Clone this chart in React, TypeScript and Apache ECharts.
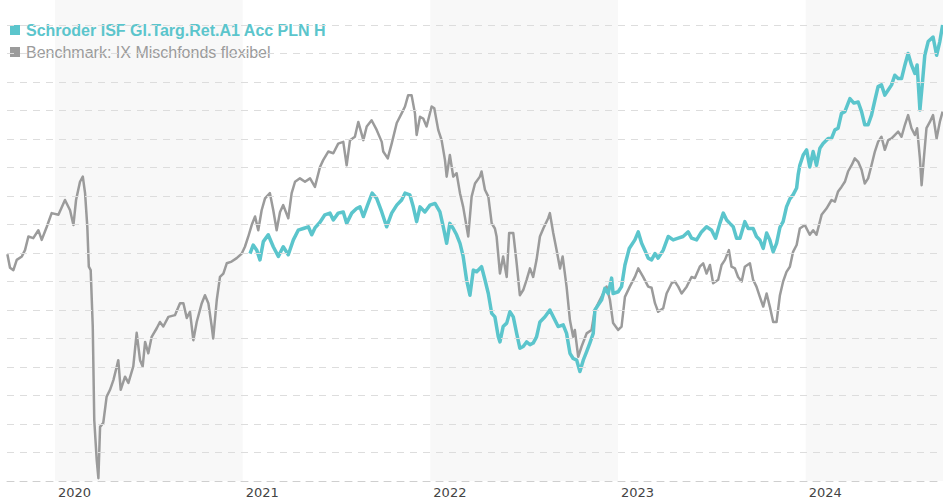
import React, { useEffect, useRef } from "react";
import * as echarts from "echarts";

const fundName = "Schroder ISF Gl.Targ.Ret.A1 Acc PLN H";
const benchName = "Benchmark: IX Mischfonds flexibel";

const yearLabels = [2020, 2021, 2022, 2023, 2024];
const shadedYears: [number, number][] = [
  [2020, 2021],
  [2022, 2023],
  [2024, 2025],
];
const gridValues = [65, 70, 75, 80, 85, 90, 95, 100, 105, 110, 115, 120, 125, 130, 135, 140];
const xMin = 2019.744;
const xMax = 2024.732;
const yMin = 60;
const yMax = 144.39;

// [decimal year, indexed value]
const benchmark: [number, number][] = [
  [2019.746, 99.8], [2019.76, 97.4], [2019.778, 97.0], [2019.796, 98.8], [2019.823, 99.4],
  [2019.84, 100.5], [2019.858, 102.9], [2019.884, 102.6], [2019.911, 104.0], [2019.929, 102.3],
  [2019.956, 104.6], [2019.982, 107.0], [2020.018, 106.7], [2020.053, 109.3], [2020.08, 107.5],
  [2020.098, 104.9], [2020.112, 109.3], [2020.133, 112.5], [2020.148, 113.4], [2020.16, 110.5],
  [2020.172, 104.6], [2020.18, 97.6], [2020.19, 97.0], [2020.201, 87.1], [2020.209, 70.7],
  [2020.222, 63.7], [2020.231, 60.5], [2020.24, 69.5], [2020.257, 70.2], [2020.275, 74.8],
  [2020.293, 76.0], [2020.311, 77.7], [2020.329, 80.1], [2020.337, 81.2], [2020.35, 76.0],
  [2020.373, 78.3], [2020.391, 77.2], [2020.417, 80.1], [2020.435, 86.0], [2020.453, 81.2],
  [2020.467, 80.1], [2020.48, 84.4], [2020.497, 82.4], [2020.515, 85.3], [2020.542, 86.8],
  [2020.559, 87.9], [2020.577, 87.1], [2020.604, 88.8], [2020.639, 89.1], [2020.666, 91.2],
  [2020.684, 91.2], [2020.702, 88.6], [2020.719, 89.7], [2020.737, 84.7], [2020.755, 87.9],
  [2020.782, 91.2], [2020.799, 92.6], [2020.817, 91.2], [2020.835, 87.1], [2020.843, 85.0],
  [2020.862, 91.8], [2020.879, 95.8], [2020.897, 96.4], [2020.915, 98.2], [2020.941, 98.5],
  [2020.968, 99.1], [2020.995, 99.9], [2021.012, 101.1], [2021.03, 102.9], [2021.048, 104.9],
  [2021.066, 106.4], [2021.083, 104.0], [2021.101, 107.5], [2021.119, 109.6], [2021.145, 110.5],
  [2021.163, 107.5], [2021.181, 104.0], [2021.199, 107.2], [2021.216, 108.4], [2021.243, 106.1],
  [2021.261, 110.5], [2021.279, 112.5], [2021.305, 113.1], [2021.332, 112.5], [2021.359, 113.1],
  [2021.385, 111.6], [2021.412, 115.1], [2021.429, 116.3], [2021.456, 117.8], [2021.483, 117.5],
  [2021.509, 119.2], [2021.536, 119.5], [2021.554, 115.4], [2021.572, 119.8], [2021.598, 120.4],
  [2021.616, 123.0], [2021.643, 119.8], [2021.661, 122.2], [2021.687, 123.3], [2021.714, 121.6],
  [2021.741, 119.5], [2021.749, 117.8], [2021.773, 116.6], [2021.794, 119.2], [2021.821, 122.8],
  [2021.847, 124.5], [2021.865, 125.7], [2021.882, 127.7], [2021.9, 127.7], [2021.918, 124.5],
  [2021.927, 120.7], [2021.945, 123.9], [2021.962, 123.6], [2021.98, 122.2], [2022.007, 125.7],
  [2022.021, 125.4], [2022.042, 121.6], [2022.06, 119.8], [2022.078, 116.3], [2022.087, 113.4],
  [2022.104, 117.2], [2022.122, 113.4], [2022.14, 114.0], [2022.158, 110.5], [2022.175, 108.1],
  [2022.202, 102.9], [2022.22, 109.9], [2022.238, 112.2], [2022.264, 113.4], [2022.273, 114.3],
  [2022.291, 111.1], [2022.309, 109.9], [2022.327, 105.2], [2022.344, 104.3], [2022.353, 102.9],
  [2022.371, 96.4], [2022.388, 99.4], [2022.407, 95.8], [2022.42, 103.5], [2022.442, 103.5],
  [2022.46, 98.2], [2022.477, 92.6], [2022.495, 93.5], [2022.513, 95.3], [2022.531, 97.3],
  [2022.548, 95.8], [2022.566, 98.8], [2022.584, 102.9], [2022.602, 104.3], [2022.628, 106.1],
  [2022.637, 107.0], [2022.655, 103.5], [2022.673, 100.5], [2022.691, 97.3], [2022.705, 99.4],
  [2022.726, 94.1], [2022.744, 88.2], [2022.761, 85.3], [2022.77, 86.5], [2022.788, 81.8],
  [2022.806, 83.6], [2022.833, 85.9], [2022.859, 86.5], [2022.877, 90.0], [2022.904, 91.8],
  [2022.921, 92.9], [2022.939, 94.1], [2022.957, 91.8], [2022.974, 87.7], [2023.001, 86.5],
  [2023.019, 87.1], [2023.037, 92.3], [2023.063, 94.1], [2023.09, 95.8], [2023.108, 97.3],
  [2023.134, 95.8], [2023.161, 94.1], [2023.179, 93.9], [2023.197, 91.2], [2023.214, 89.7],
  [2023.241, 90.3], [2023.259, 92.9], [2023.286, 94.7], [2023.303, 95.0], [2023.321, 94.1],
  [2023.339, 92.9], [2023.366, 94.1], [2023.392, 95.8], [2023.41, 95.6], [2023.436, 97.6],
  [2023.454, 98.2], [2023.472, 96.4], [2023.49, 97.9], [2023.507, 94.7], [2023.534, 95.3],
  [2023.552, 97.9], [2023.57, 98.8], [2023.591, 100.5], [2023.605, 97.6], [2023.623, 97.3],
  [2023.64, 95.8], [2023.659, 95.0], [2023.676, 97.6], [2023.703, 98.2], [2023.72, 95.3],
  [2023.738, 94.1], [2023.756, 92.3], [2023.774, 90.6], [2023.792, 92.9], [2023.809, 90.6],
  [2023.827, 87.9], [2023.845, 87.9], [2023.863, 92.6], [2023.88, 95.0], [2023.898, 96.7],
  [2023.916, 97.6], [2023.933, 100.2], [2023.952, 101.4], [2023.969, 104.3], [2023.996, 104.9],
  [2024.022, 103.2], [2024.04, 104.0], [2024.058, 103.2], [2024.085, 106.7], [2024.111, 107.8],
  [2024.138, 109.3], [2024.156, 109.0], [2024.173, 110.8], [2024.191, 111.6], [2024.209, 112.5],
  [2024.226, 114.3], [2024.245, 115.4], [2024.262, 116.6], [2024.28, 116.0], [2024.298, 114.6],
  [2024.315, 112.2], [2024.333, 113.1], [2024.351, 115.4], [2024.369, 117.8], [2024.386, 119.5],
  [2024.404, 120.4], [2024.422, 118.1], [2024.44, 119.8], [2024.458, 120.1], [2024.475, 120.7],
  [2024.493, 121.3], [2024.511, 120.4], [2024.529, 122.5], [2024.546, 124.2], [2024.564, 121.9],
  [2024.582, 120.7], [2024.594, 121.9], [2024.609, 116.6], [2024.618, 111.9], [2024.63, 116.6],
  [2024.644, 121.9], [2024.662, 123.0], [2024.679, 124.2], [2024.698, 120.1], [2024.715, 123.0],
  [2024.73, 124.8],
];

const fund: [number, number][] = [
  [2021.039, 99.9], [2021.056, 101.4], [2021.075, 100.5], [2021.092, 98.8], [2021.11, 102.0],
  [2021.136, 103.2], [2021.163, 101.1], [2021.19, 99.4], [2021.216, 101.1], [2021.243, 99.7],
  [2021.27, 102.3], [2021.296, 104.0], [2021.323, 104.3], [2021.35, 104.6], [2021.368, 103.2],
  [2021.385, 104.4], [2021.412, 105.4], [2021.438, 106.7], [2021.465, 107.0], [2021.483, 105.8],
  [2021.509, 107.0], [2021.536, 107.2], [2021.554, 105.2], [2021.581, 107.0], [2021.607, 107.8],
  [2021.625, 108.1], [2021.643, 106.4], [2021.669, 108.7], [2021.69, 110.5], [2021.714, 109.6],
  [2021.741, 107.2], [2021.767, 104.6], [2021.794, 107.0], [2021.821, 108.4], [2021.847, 109.3],
  [2021.865, 110.5], [2021.891, 110.2], [2021.909, 108.1], [2021.927, 105.5], [2021.945, 108.1],
  [2021.971, 107.2], [2021.998, 108.4], [2022.025, 108.7], [2022.051, 107.2], [2022.069, 104.6],
  [2022.087, 101.7], [2022.104, 105.2], [2022.122, 104.3], [2022.14, 103.2], [2022.158, 101.7],
  [2022.175, 99.4], [2022.193, 95.3], [2022.211, 92.6], [2022.229, 97.0], [2022.247, 96.7],
  [2022.273, 97.6], [2022.291, 95.3], [2022.309, 92.9], [2022.327, 89.4], [2022.344, 88.8],
  [2022.362, 85.3], [2022.371, 84.4], [2022.388, 87.1], [2022.407, 87.7], [2022.424, 89.7],
  [2022.442, 88.8], [2022.46, 85.9], [2022.477, 83.3], [2022.495, 83.6], [2022.513, 84.4],
  [2022.531, 83.9], [2022.548, 84.2], [2022.566, 85.3], [2022.584, 87.9], [2022.611, 88.8],
  [2022.637, 90.0], [2022.655, 88.8], [2022.681, 87.1], [2022.708, 87.4], [2022.726, 85.9],
  [2022.744, 82.4], [2022.761, 81.5], [2022.78, 81.2], [2022.797, 79.2], [2022.815, 81.2],
  [2022.833, 82.7], [2022.85, 84.2], [2022.868, 85.9], [2022.877, 90.0], [2022.895, 90.9],
  [2022.913, 91.8], [2022.93, 93.8], [2022.948, 92.9], [2022.966, 95.6], [2022.974, 92.9],
  [2023.001, 93.2], [2023.019, 94.1], [2023.037, 97.9], [2023.06, 100.8], [2023.09, 102.3],
  [2023.108, 103.7], [2023.126, 101.7], [2023.143, 100.5], [2023.161, 99.1], [2023.179, 98.8],
  [2023.197, 99.9], [2023.214, 99.1], [2023.241, 100.5], [2023.268, 102.9], [2023.294, 102.3],
  [2023.321, 102.6], [2023.347, 102.9], [2023.374, 103.7], [2023.392, 102.6], [2023.419, 102.3],
  [2023.445, 103.7], [2023.472, 104.6], [2023.499, 104.0], [2023.52, 102.6], [2023.543, 105.2],
  [2023.561, 107.0], [2023.579, 105.8], [2023.596, 105.2], [2023.614, 104.6], [2023.632, 102.6],
  [2023.65, 102.6], [2023.676, 105.5], [2023.694, 104.3], [2023.72, 104.3], [2023.738, 102.9],
  [2023.756, 102.3], [2023.774, 100.8], [2023.792, 103.5], [2023.809, 102.3], [2023.827, 100.2],
  [2023.845, 101.7], [2023.863, 104.5], [2023.88, 105.5], [2023.898, 108.1], [2023.916, 109.5],
  [2023.933, 110.2], [2023.952, 111.4], [2023.96, 113.7], [2023.969, 115.4], [2023.987, 117.2],
  [2024.005, 118.1], [2024.022, 115.1], [2024.04, 117.8], [2024.058, 115.4], [2024.076, 118.4],
  [2024.093, 119.2], [2024.12, 120.1], [2024.138, 120.1], [2024.156, 121.6], [2024.173, 121.9],
  [2024.191, 124.5], [2024.209, 124.8], [2024.236, 127.1], [2024.257, 126.3], [2024.28, 126.5],
  [2024.298, 124.8], [2024.315, 122.5], [2024.333, 122.5], [2024.351, 124.2], [2024.369, 126.8],
  [2024.386, 129.2], [2024.404, 129.5], [2024.422, 127.7], [2024.44, 128.6], [2024.458, 129.5],
  [2024.475, 131.2], [2024.493, 130.6], [2024.511, 130.6], [2024.529, 133.0], [2024.546, 135.0],
  [2024.564, 133.0], [2024.582, 131.5], [2024.594, 133.0], [2024.609, 125.1], [2024.623, 130.1],
  [2024.635, 134.7], [2024.653, 137.1], [2024.679, 137.9], [2024.698, 134.7], [2024.715, 137.1],
  [2024.73, 140.0],
];

const fundColor = "#5bc5cc";
const benchColor = "#9b9b9b";

export default function App() {
  const ref = useRef<HTMLDivElement>(null);

  useEffect(() => {
    if (!ref.current) return;
    const chart = echarts.init(ref.current, undefined, { renderer: "svg" });
    chart.setOption({
      animation: false,
      backgroundColor: "#ffffff",
      grid: { left: 7, right: 0, top: 0, bottom: 19, containLabel: false },
      legend: {
        orient: "vertical",
        left: 5,
        top: 17,
        itemWidth: 10,
        itemHeight: 10,
        itemGap: 6,
        icon: "rect",
        selectedMode: false,
        textStyle: { fontFamily: "Liberation Sans, Arial, sans-serif", fontSize: 16, padding: [0, 0, 0, 1] },
        data: [
          { name: fundName, textStyle: { color: fundColor, fontWeight: "bold" } },
          { name: benchName, textStyle: { color: benchColor, fontWeight: "normal" } },
        ],
      },
      xAxis: {
        type: "value",
        min: xMin,
        max: xMax,
        splitLine: { show: false },
        axisTick: { show: false },
        axisLine: { show: true, lineStyle: { color: "#cfcfcf", type: [7, 6], width: 1 } },
        axisLabel: {
          customValues: yearLabels,
          formatter: (v: number) => String(Math.round(v)),
          align: "left",
          margin: 5,
          padding: [0, 0, 0, 3],
          color: "#444444",
          fontSize: 13,
          fontFamily: "DejaVu Sans, sans-serif",
        },
      },
      yAxis: {
        type: "value",
        min: yMin,
        max: yMax,
        show: false,
        splitLine: { show: false },
      },
      series: [
        {
          name: "bands",
          type: "line",
          data: [],
          silent: true,
          z: 0,
          markArea: {
            silent: true,
            itemStyle: { color: "#f8f8f8" },
            data: shadedYears.map(([a, b]) => [{ xAxis: a }, { xAxis: Math.min(b, xMax) }]),
          },
        },
        {
          name: "gridlines",
          type: "line",
          data: [],
          silent: true,
          z: 1,
          markLine: {
            silent: true,
            symbol: ["none", "none"],
            label: { show: false },
            lineStyle: { color: "#dddddd", type: [7, 6], width: 1 },
            data: gridValues.map((v) => ({ yAxis: v })),
          },
        },
        {
          name: benchName,
          type: "line",
          data: benchmark,
          showSymbol: false,
          symbol: "none",
          color: benchColor,
          lineStyle: { color: benchColor, width: 2.5, join: "round" },
          z: 2,
        },
        {
          name: fundName,
          type: "line",
          data: fund,
          showSymbol: false,
          symbol: "none",
          color: fundColor,
          lineStyle: { color: fundColor, width: 3.5, join: "round" },
          z: 3,
        },
      ],
    });
    return () => chart.dispose();
  }, []);

  return (
    <div
      ref={ref}
      style={{ position: "absolute", left: 0, top: 0, width: 943, height: 500 }}
    />
  );
}
